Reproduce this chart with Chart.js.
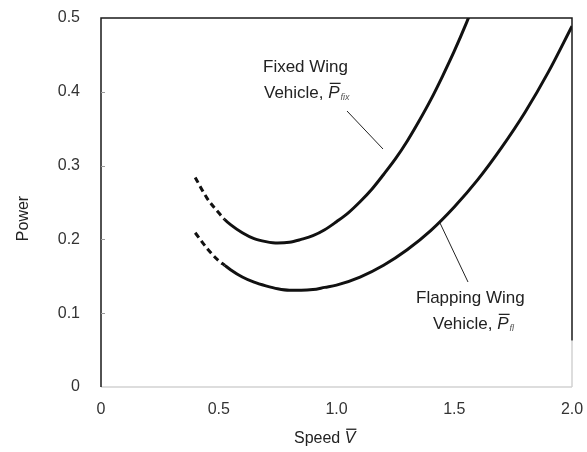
<!DOCTYPE html>
<html>
<head>
<meta charset="utf-8">
<script src="https://cdn.jsdelivr.net/npm/chart.js@4/dist/chart.umd.min.js"></script>
<style>
  html, body { margin: 0; padding: 0; background: #fff; }
  #wrap { width: 587px; height: 452px; }
</style>
</head>
<body>
<div id="wrap"><canvas id="c" width="587" height="452"></canvas></div>
<script>
// Non-dimensional speed samples and power curves
const speedFixed = [0.40, 0.45, 0.50, 0.525, 0.55, 0.60, 0.65, 0.70, 0.75, 0.80, 0.85, 0.90, 0.95, 1.00, 1.05, 1.10, 1.15, 1.20, 1.25, 1.30, 1.35, 1.40, 1.45, 1.50, 1.55, 1.60];
const powerFixed = [0.284, 0.256, 0.236, 0.227, 0.220, 0.209, 0.201, 0.197, 0.195, 0.196, 0.200, 0.205, 0.213, 0.224, 0.236, 0.251, 0.268, 0.288, 0.309, 0.333, 0.360, 0.389, 0.421, 0.455, 0.492, 0.532];

const speedFlapping = [0.40, 0.45, 0.50, 0.525, 0.55, 0.60, 0.65, 0.70, 0.75, 0.80, 0.85, 0.90, 0.95, 1.00, 1.10, 1.20, 1.30, 1.40, 1.50, 1.60, 1.70, 1.80, 1.90, 2.00];
const powerFlapping = [0.209, 0.188, 0.171, 0.165, 0.159, 0.149, 0.142, 0.137, 0.133, 0.131, 0.131, 0.132, 0.135, 0.138, 0.149, 0.165, 0.186, 0.212, 0.244, 0.281, 0.324, 0.372, 0.427, 0.489];

// Below this speed the curves are drawn dashed
const dashedBelow = 0.525;

const xTicks = [0, 0.5, 1.0, 1.5, 2.0];
const yTicks = [0, 0.1, 0.2, 0.3, 0.4, 0.5];

const FONT = '"Liberation Sans", Arial, Helvetica, sans-serif';
const TEXT = '#222';

function toPoints(xs, ys) { return xs.map((x, i) => ({ x: x, y: ys[i] })); }

const dashSegment = {
  borderDash: ctx => (ctx.p1.parsed.x <= dashedBelow + 1e-9 ? [6, 4] : undefined)
};

// Draws "base" with an overline and an optional small italic subscript
function drawBarSymbol(ctx, x, y, base, size, sub) {
  ctx.font = 'italic ' + size + 'px ' + FONT;
  const w = ctx.measureText(base).width;
  ctx.fillText(base, x, y);
  ctx.save();
  ctx.lineWidth = 1.3;
  ctx.strokeStyle = TEXT;
  ctx.beginPath();
  ctx.moveTo(x + 1.5, y - size * 0.86);
  ctx.lineTo(x + w + 1, y - size * 0.86);
  ctx.stroke();
  ctx.restore();
  let end = x + w;
  if (sub) {
    ctx.save();
    ctx.font = 'italic ' + Math.round(size * 0.5) + 'px ' + FONT;
    ctx.fillStyle = '#555';
    ctx.fillText(sub, end + 1, y + 2);
    end += ctx.measureText(sub).width + 1;
    ctx.restore();
  }
  return end;
}

// Keeps the plot frame where the layout puts it, ignoring label overhang
function zeroPadding(s) {
  s.paddingTop = 0; s.paddingBottom = 0; s.paddingLeft = 0; s.paddingRight = 0;
}

const decorPlugin = {
  id: 'decor',
  afterDraw(chart) {
    const ctx = chart.ctx;
    const xs = chart.scales.x, ys = chart.scales.y;
    const L = xs.getPixelForValue(0), R = xs.getPixelForValue(2);
    const T = ys.getPixelForValue(0.5), B = ys.getPixelForValue(0);
    const rightStop = ys.getPixelForValue(0.063);

    ctx.save();
    // light frame parts
    ctx.strokeStyle = '#d2d2d2';
    ctx.lineWidth = 1.5;
    ctx.beginPath();
    ctx.moveTo(L, B); ctx.lineTo(R, B);
    ctx.moveTo(R, rightStop); ctx.lineTo(R, B);
    ctx.stroke();
    // dark frame parts
    ctx.strokeStyle = '#1a1a1a';
    ctx.beginPath();
    ctx.moveTo(L, B); ctx.lineTo(L, T); ctx.lineTo(R, T); ctx.lineTo(R, rightStop);
    ctx.stroke();
    // inner tick marks on the power axis
    ctx.strokeStyle = '#999';
    ctx.lineWidth = 1;
    ctx.beginPath();
    yTicks.slice(1, -1).forEach(v => {
      const py = Math.round(ys.getPixelForValue(v)) + 0.5;
      ctx.moveTo(L, py); ctx.lineTo(L + 4, py);
    });
    ctx.stroke();

    // axis titles
    ctx.fillStyle = TEXT;
    ctx.textBaseline = 'alphabetic';
    ctx.save();
    ctx.translate(28, (T + B) / 2 + 16);
    ctx.rotate(-Math.PI / 2);
    ctx.font = '16px ' + FONT;
    ctx.textAlign = 'center';
    ctx.fillText('Power', 0, 0);
    ctx.restore();

    ctx.textAlign = 'left';
    ctx.font = '16px ' + FONT;
    const sw = ctx.measureText('Speed ').width;
    const sx = 294;
    ctx.fillText('Speed ', sx, 443);
    drawBarSymbol(ctx, sx + sw, 443, 'V', 16, null);

    // curve annotations
    ctx.font = '17px ' + FONT;
    ctx.fillText('Fixed Wing', 263, 72);
    ctx.fillText('Vehicle, ', 264, 98);
    let vx = 264 + ctx.measureText('Vehicle, ').width;
    drawBarSymbol(ctx, vx, 98, 'P', 17, 'fix');

    ctx.font = '17px ' + FONT;
    ctx.fillText('Flapping Wing', 416, 303);
    ctx.fillText('Vehicle, ', 433, 329);
    vx = 433 + ctx.measureText('Vehicle, ').width;
    drawBarSymbol(ctx, vx, 329, 'P', 17, 'fl');

    // leader lines
    ctx.strokeStyle = '#222';
    ctx.lineWidth = 1;
    ctx.beginPath();
    ctx.moveTo(347, 111); ctx.lineTo(383, 149);
    ctx.moveTo(440, 223); ctx.lineTo(468, 282);
    ctx.stroke();
    ctx.restore();
  }
};

new Chart(document.getElementById('c'), {
  type: 'line',
  data: {
    datasets: [
      {
        label: 'Fixed Wing Vehicle',
        data: toPoints(speedFixed, powerFixed),
        borderColor: '#111',
        borderWidth: 3,
        pointRadius: 0,
        tension: 0.4,
        cubicInterpolationMode: 'monotone',
        segment: dashSegment
      },
      {
        label: 'Flapping Wing Vehicle',
        data: toPoints(speedFlapping, powerFlapping),
        borderColor: '#111',
        borderWidth: 3,
        pointRadius: 0,
        tension: 0.4,
        cubicInterpolationMode: 'monotone',
        segment: dashSegment
      }
    ]
  },
  options: {
    responsive: false,
    animation: false,
    layout: { padding: { top: 18, right: 15, left: 0, bottom: 0 } },
    plugins: { legend: { display: false }, tooltip: { enabled: false } },
    scales: {
      x: {
        type: 'linear',
        min: 0, max: 2,
        grid: { display: false },
        border: { display: false },
        afterBuildTicks: s => { s.ticks = xTicks.map(v => ({ value: v })); },
        afterFit: s => { s.height = 65; zeroPadding(s); },
        ticks: {
          padding: 5,
          color: '#333',
          font: { family: FONT, size: 16 },
          callback: v => (v === 0 ? '0' : v.toFixed(1))
        }
      },
      y: {
        type: 'linear',
        min: 0, max: 0.5,
        grid: { display: false },
        border: { display: false },
        afterBuildTicks: s => { s.ticks = yTicks.map(v => ({ value: v })); },
        afterFit: s => { s.width = 101; zeroPadding(s); },
        ticks: {
          padding: 13,
          color: '#333',
          font: { family: FONT, size: 16 },
          callback: v => (v === 0 ? '0' : v.toFixed(1))
        }
      }
    }
  },
  plugins: [decorPlugin]
});
</script>
</body>
</html>
